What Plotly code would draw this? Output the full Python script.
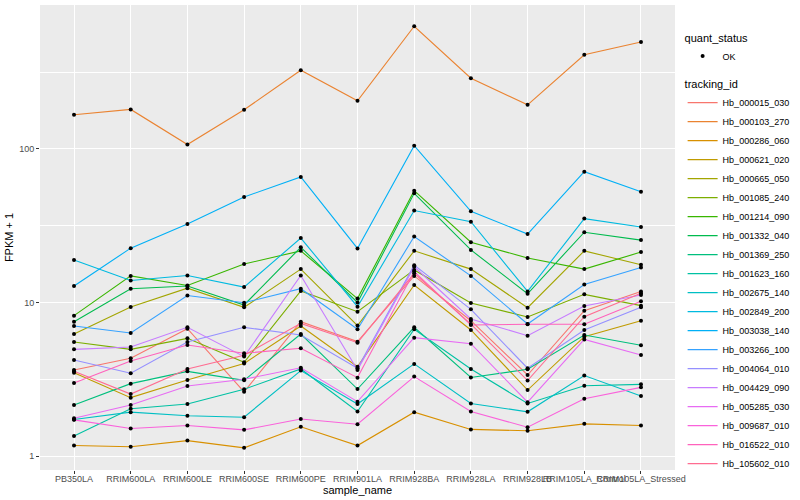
import plotly.graph_objects as go

samples = ["PB350LA", "RRIM600LA", "RRIM600LE", "RRIM600SE", "RRIM600PE", "RRIM901LA",
           "RRIM928BA", "RRIM928LA", "RRIM928LB", "RRIM105LA_Control", "RRIM105LA_Stressed"]

y_ticks = [1, 10, 100]
y_tick_labels = ["1", "10", "100"]

hb_000015_030 = [3.63, 4.33, 6.75, 2.62, 7.50, 5.56, 14.9, 7.61, 3.37, 8.85, 11.8]
hb_000103_270 = [167, 181, 107, 180, 326, 206, 630, 289, 194, 411, 498]
hb_000286_060 = [1.17, 1.15, 1.26, 1.13, 1.55, 1.17, 1.93, 1.49, 1.46, 1.62, 1.58]
hb_000621_020 = [3.49, 2.40, 3.13, 4.01, 7.03, 3.82, 13.0, 6.62, 2.69, 5.99, 7.61]
hb_000665_050 = [6.23, 9.35, 12.4, 9.30, 16.5, 7.07, 21.7, 16.5, 9.25, 21.7, 17.6]
hb_001085_240 = [5.53, 4.95, 5.84, 4.08, 11.9, 8.71, 16.3, 9.93, 8.04, 11.3, 9.54]
hb_001214_090 = [8.21, 14.9, 12.9, 17.8, 21.7, 10.6, 53.5, 24.7, 19.5, 16.5, 21.3]
hb_001332_040 = [7.50, 12.3, 12.8, 9.63, 22.9, 10.0, 51.4, 22.0, 11.4, 28.7, 25.5]
hb_001369_250 = [2.15, 2.96, 3.56, 3.11, 6.23, 2.73, 6.89, 3.25, 3.67, 6.14, 5.26]
hb_001623_160 = [1.35, 2.03, 2.18, 2.72, 3.69, 1.95, 6.69, 3.69, 2.20, 2.87, 2.93]
hb_002675_140 = [1.73, 1.93, 1.83, 1.79, 3.60, 2.18, 3.98, 2.20, 1.94, 3.34, 2.46]
hb_002849_200 = [18.9, 13.9, 15.0, 12.6, 26.3, 9.39, 39.7, 33.6, 11.8, 35.2, 31.0]
hb_003038_140 = [12.8, 22.6, 32.5, 48.7, 65.7, 22.5, 105, 39.3, 27.9, 71.1, 52.7]
hb_003266_100 = [7.03, 6.33, 11.1, 9.97, 12.3, 6.69, 26.9, 14.9, 7.24, 13.1, 16.9]
hb_004064_010 = [4.22, 3.46, 5.53, 6.89, 6.14, 3.73, 17.5, 9.03, 3.73, 6.62, 9.30]
hb_004429_090 = [4.95, 5.13, 6.89, 4.44, 15.0, 3.63, 17.1, 7.81, 6.08, 9.49, 11.2]
hb_005285_030 = [1.76, 2.15, 2.86, 3.16, 3.76, 2.26, 5.90, 5.39, 2.24, 5.75, 4.55]
hb_009687_010 = [1.72, 1.51, 1.58, 1.48, 1.74, 1.61, 3.29, 1.95, 1.54, 2.36, 2.80]
hb_016522_010 = [2.99, 4.16, 5.29, 4.67, 5.03, 3.24, 15.9, 7.14, 7.21, 7.21, 10.2]
hb_105602_010 = [3.56, 2.53, 3.69, 4.53, 7.31, 5.47, 15.5, 7.24, 3.10, 8.08, 11.5]

tracking_ids = ["Hb_000015_030", "Hb_000103_270", "Hb_000286_060", "Hb_000621_020",
                "Hb_000665_050", "Hb_001085_240", "Hb_001214_090", "Hb_001332_040",
                "Hb_001369_250", "Hb_001623_160", "Hb_002675_140", "Hb_002849_200",
                "Hb_003038_140", "Hb_003266_100", "Hb_004064_010", "Hb_004429_090",
                "Hb_005285_030", "Hb_009687_010", "Hb_016522_010", "Hb_105602_010"]
series_values = [hb_000015_030, hb_000103_270, hb_000286_060, hb_000621_020,
                 hb_000665_050, hb_001085_240, hb_001214_090, hb_001332_040,
                 hb_001369_250, hb_001623_160, hb_002675_140, hb_002849_200,
                 hb_003038_140, hb_003266_100, hb_004064_010, hb_004429_090,
                 hb_005285_030, hb_009687_010, hb_016522_010, hb_105602_010]

colors = ["#F8766D", "#EA8331", "#D89000", "#C09B00", "#A3A500", "#7CAE00", "#39B600",
          "#00BB4E", "#00BF7D", "#00C1A3", "#00BFC4", "#00BAE0", "#00B0F6", "#35A2FF",
          "#9590FF", "#C77CFF", "#E76BF3", "#FA62DB", "#FF62BC", "#FF6C91"]

FONT = "Liberation Sans, Arial, sans-serif"

fig = go.Figure()
for name, vals, col in zip(tracking_ids, series_values, colors):
    fig.add_trace(go.Scatter(x=samples, y=vals, mode="lines", name=name,
                             line=dict(color=col, width=1.1), legend="legend2"))

all_x, all_y = [], []
for vals in series_values:
    all_x += samples
    all_y += vals
fig.add_trace(go.Scatter(x=all_x, y=all_y, mode="markers", name="OK",
                         marker=dict(color="black", size=4), legend="legend",
                         showlegend=True))

fig.update_layout(
    width=800, height=500, showlegend=True,
    margin=dict(l=40, r=112, t=5, b=30),
    paper_bgcolor="white", plot_bgcolor="#EBEBEB",
    font=dict(family=FONT, size=9, color="black"),
    legend=dict(title=dict(text="quant_status", font=dict(size=11)),
                x=1.012, xanchor="left", y=0.952, yanchor="top",
                font=dict(size=9), bgcolor="rgba(0,0,0,0)", tracegroupgap=0),
    legend2=dict(title=dict(text="tracking_id", font=dict(size=11)),
                 x=1.012, xanchor="left", y=0.852, yanchor="top",
                 font=dict(size=9), bgcolor="rgba(0,0,0,0)", tracegroupgap=0),
    xaxis=dict(type="category", categoryorder="array", categoryarray=samples,
               range=[-0.6, 10.6], showgrid=True, gridcolor="white", gridwidth=1.1,
               zeroline=False, showline=False, ticks="outside", ticklen=3,
               tickcolor="#333333", tickangle=0, ticklabelstandoff=-3,
               tickfont=dict(size=9, color="#4D4D4D"),
               title=dict(text="sample_name", font=dict(size=11), standoff=0),
               automargin=False),
    yaxis=dict(type="log", range=[-0.0912, 2.938], tickvals=y_ticks, ticktext=y_tick_labels,
               showgrid=True, gridcolor="white", gridwidth=1.1,
               minor=dict(tickvals=[3.1623, 31.623, 316.23], showgrid=True,
                          gridcolor="white", gridwidth=0.5, ticklen=0),
               zeroline=False, showline=False, ticks="outside", ticklen=3,
               tickcolor="#333333", tickfont=dict(size=9, color="#4D4D4D"),
               title=dict(text="FPKM + 1", font=dict(size=11), standoff=3),
               automargin=False),
)

fig.write_html("out.html", config={"displayModeBar": False},
               post_script="document.body.style.margin='0';")
